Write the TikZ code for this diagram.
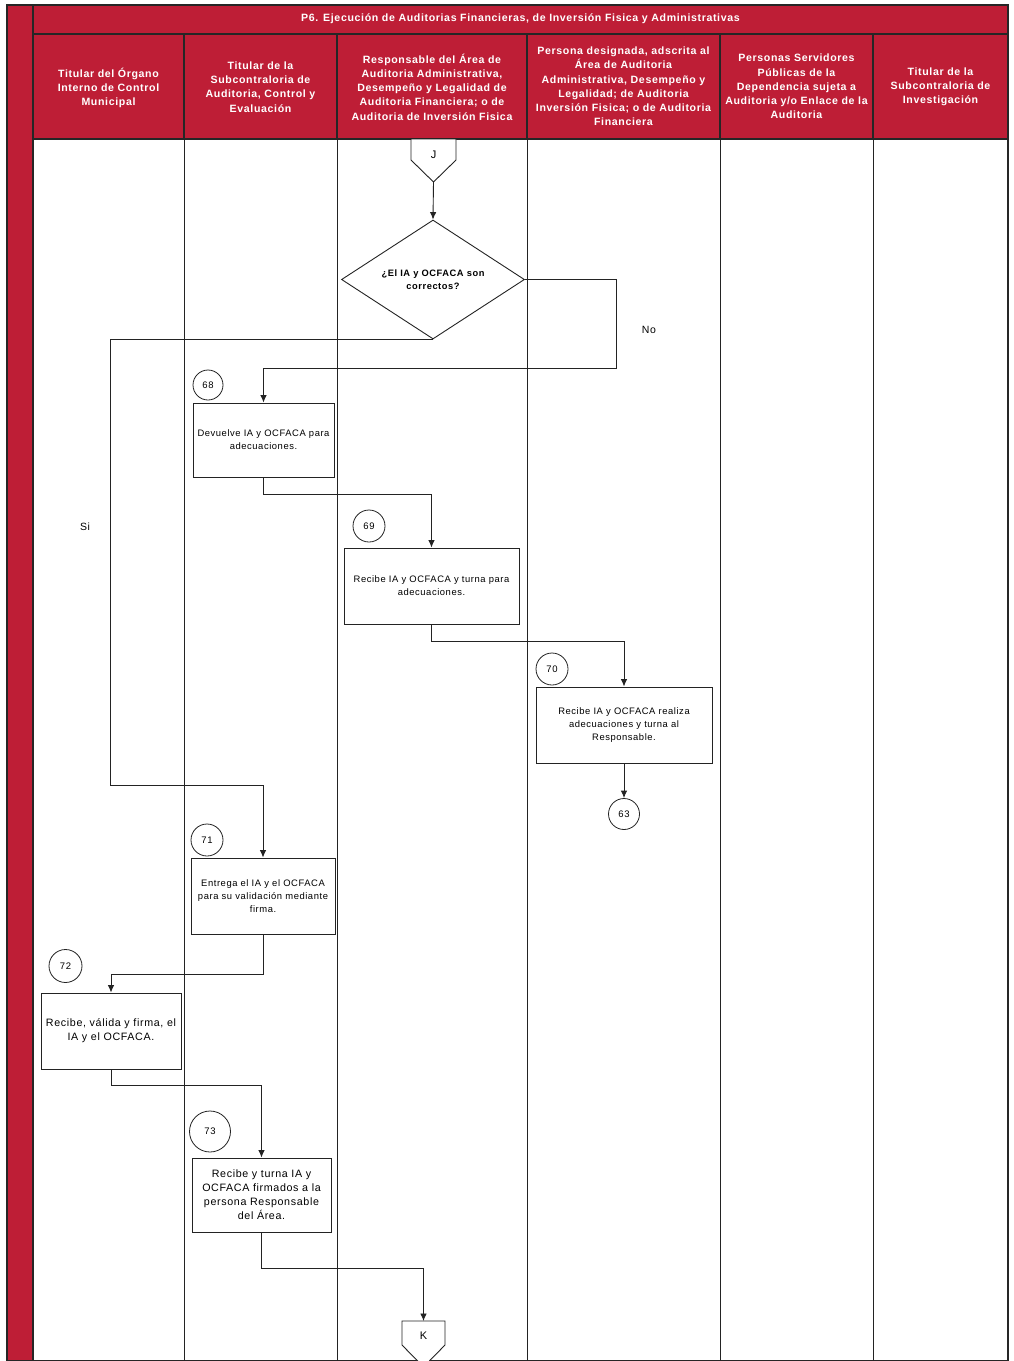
\documentclass[tikz,border=0pt]{standalone}
\usepackage{fontspec}
\setmainfont[LetterSpace=6]{Liberation Sans}
\usetikzlibrary{arrows.meta,shapes.geometric}
\definecolor{hdred}{RGB}{190,30,54}
\definecolor{ln}{RGB}{35,35,35}
\begin{document}
\begin{tikzpicture}[x=1pt,y=-1pt,
  lane/.style={draw=ln, line width=0.9pt},
  hdline/.style={draw=black!85, line width=1.3pt},
  hdr/.style={text=white, font=\bfseries\fontsize{10.6}{14.2}\selectfont, align=center},
  box/.style={draw=ln, line width=0.9pt, fill=white, align=center, font=\fontsize{9.4}{13}\selectfont, inner sep=1pt},
  bigbox/.style={box, font=\fontsize{10.7}{14}\selectfont},
  num/.style={draw=ln, circle, line width=0.8pt, fill=white, font=\fontsize{9.5}{10}\selectfont, inner sep=0pt},
  flow/.style={draw=ln, line width=0.9pt, -{Latex[length=7.5pt,width=6.5pt]}},
  plain/.style={draw=ln, line width=0.9pt},
  lbl/.style={font=\fontsize{10.5}{12}\selectfont}
]
\useasboundingbox (0,0) rectangle (1013,1361);
% frame and header
\fill[hdred] (7,5) rectangle (1008,139);
\fill[hdred] (7,5) rectangle (33,1361);
\draw[hdline] (7,5) rectangle (1008,1361);
\draw[hdline] (33,5) -- (33,1361);
\draw[hdline] (33,34) -- (1008,34);
\draw[hdline] (33,139) -- (1008,139);
\foreach \xx in {184,337,527,720,873} {
  \draw[hdline] (\xx,34) -- (\xx,139);
  \draw[lane] (\xx,139) -- (\xx,1361);
}
\node[hdr] (title) at (520.5,19) {P6. Ejecución de Auditorias Financieras, de Inversión Fisica y Administrativas};
\node[hdr] (h1) at (108.5,88) {Titular del Órgano\\Interno de Control\\Municipal};
\node[hdr] (h2) at (260.5,87) {Titular de la\\Subcontraloria de\\Auditoria, Control y\\Evaluación};
\node[hdr] (h3) at (432,87) {Responsable del Área de\\Auditoria Administrativa,\\Desempeño y Legalidad de\\Auditoria Financiera; o de\\Auditoria de Inversión Fisica};
\node[hdr] (h4) at (623.5,86.5) {Persona designada, adscrita al\\Área de Auditoria\\Administrativa, Desempeño y\\Legalidad; de Auditoria\\Inversión Fisica; o de Auditoria\\Financiera};
\node[hdr] (h5) at (796.5,86.5) {Personas Servidores\\Públicas de la\\Dependencia sujeta a\\Auditoria y/o Enlace de la\\Auditoria};
\node[hdr] (h6) at (940.5,86.5) {Titular de la\\Subcontraloria de\\Investigación};

% off-page connector J
\draw[plain, fill=white] (411,139) -- (456,139) -- (456,160) -- (433.5,182) -- (411,160) -- cycle;
\node[font=\fontsize{11}{12}\selectfont] (J) at (433.5,155) {J};
\coordinate (Jtip) at (433.5,182);

% decision
\node[draw=ln, line width=0.9pt, diamond, minimum width=183pt, minimum height=119pt, inner sep=0pt, shape aspect=1.5, align=center,
  font=\bfseries\fontsize{9.3}{13}\selectfont] (dia) at (433,279.5) {¿El IA y OCFACA son\\correctos?};

% process boxes
\node[box, minimum width=141pt, minimum height=74pt] (b68) at (263.5,440) {Devuelve IA y OCFACA para\\adecuaciones.};
\node[box, minimum width=175pt, minimum height=76pt] (b69) at (431.5,586) {Recibe IA y OCFACA y turna para\\adecuaciones.};
\node[box, minimum width=176pt, minimum height=76pt] (b70) at (624,725) {Recibe IA y OCFACA realiza\\adecuaciones y turna al\\Responsable.};
\node[box, minimum width=144pt, minimum height=76pt] (b71) at (263,896) {Entrega el IA y el OCFACA\\para su validación mediante\\firma.};
\node[bigbox, minimum width=140pt, minimum height=76pt] (b72) at (111,1031) {Recibe, válida y firma, el\\IA y el OCFACA.};
\node[bigbox, minimum width=139pt, minimum height=74pt] (b73) at (261.5,1195) {Recibe y turna IA y\\OCFACA firmados a la\\persona Responsable\\del Área.};

% numbers
\node[num, minimum size=30pt] (n68) at (208,385) {68};
\node[num, minimum size=32pt] (n69) at (369,526) {69};
\node[num, minimum size=32pt] (n70) at (552,669) {70};
\node[num, minimum size=31pt] (c63) at (624,814) {63};
\node[num, minimum size=32pt] (n71) at (207,840) {71};
\node[num, minimum size=33pt] (n72) at (65.5,966) {72};
\node[num, minimum size=41pt] (n73) at (210,1131.5) {73};

% off-page connector K
\draw[plain, fill=white] (402,1321) -- (445,1321) -- (445,1345) -- (423.5,1367) -- (402,1345) -- cycle;
\node[font=\fontsize{11}{12}\selectfont] (K) at (423.5,1336) {K};
\coordinate (Ktop) at (423.5,1321);

% bend points
\coordinate (noA) at (616,368);
\coordinate (siA) at (110,785);

% connectors
\draw[flow] (Jtip) -- (dia.north);
\draw[flow] (dia.east) -| (noA) -| (b68.north);
\draw[flow] (dia.south) -| (siA) -| (b71.north);
\draw[flow] (b68.south) -- ++(0,17) -| (b69.north);
\draw[flow] (b69.south) -- ++(0,17) -| (b70.north);
\draw[flow] (b70.south) -- (c63.north);
\draw[flow] (b71.south) -- ++(0,40) -| (b72.north);
\draw[flow] (b72.south) -- ++(0,16) -| (b73.north);
\draw[flow] (b73.south) -- ++(0,36) -| (Ktop);

% branch labels
\node[lbl] (lno) at (649,330) {No};
\node[lbl] (lsi) at (85,527) {Si};
\end{tikzpicture}
\end{document}
